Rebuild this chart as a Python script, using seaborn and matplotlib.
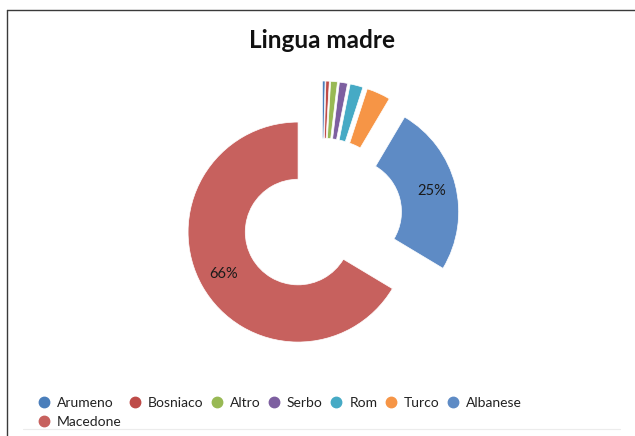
import matplotlib.pyplot as plt
import seaborn as sns
from matplotlib.lines import Line2D

# Lingua madre (quote percentuali)
lingue = ['Arumeno', 'Bosniaco', 'Altro', 'Serbo', 'Rom', 'Turco', 'Albanese', 'Macedone']
quote = [0.4, 0.5, 1.0, 1.2, 1.9, 3.5, 25.1, 66.4]
colori = ['#4A7EBB', '#BE4B48', '#98B954', '#7D5FA0', '#46AAC5', '#F69546',
          '#5E8BC5', '#C7615E']

sns.set_theme(style='white')
plt.rcParams['font.family'] = ['Lato', 'DejaVu Sans']

W, H = 635, 436
fig = plt.figure(figsize=(W / 100, H / 100), dpi=100)

# pie centre (322, 218.5) px, radius 110 px -> axes of 2.5 radii
cx, cy, r = 322, 218.5, 110
half = 1.25 * r
ax = fig.add_axes([(cx - half) / W, (H - cy - half) / H, 2 * half / W, 2 * half / H])

wedges, testi, pct = ax.pie(
    quote, colors=colori, startangle=90, counterclock=False,
    explode=[0.25] * len(quote), radius=1,
    wedgeprops=dict(width=0.52, edgecolor='white', linewidth=0.5),
    autopct=lambda p: f'{p:.0f}%' if p > 10 else '',
    pctdistance=0.78,
    textprops=dict(fontsize=10.5, color='#1a1a1a'))
ax.set_xlim(-1.25, 1.25)
ax.set_ylim(-1.25, 1.25)
ax.axis('off')

# title
fig.text(cx / W, 1 - 40 / H, 'Lingua madre', ha='center', va='center',
         fontsize=17.5, fontweight='bold', color='#111111')

# legend: Macedone wraps under Arumeno
ordine = [0, 7, 1, 2, 3, 4, 5, 6]
maniglie = [Line2D([], [], marker='o', linestyle='', markersize=7.5,
                   markerfacecolor=colori[i], markeredgecolor=colori[i])
            for i in ordine]
etichette = [lingue[i] for i in ordine]
fig.legend(maniglie, etichette, ncol=7, loc='upper left',
           bbox_to_anchor=(38 / W, 1 - 397 / H), frameon=False,
           fontsize=10, handlelength=0.8, handletextpad=0.55,
           columnspacing=0.55, labelspacing=0.5, borderpad=0,
           borderaxespad=0, labelcolor='#222222')

# chart border (top and left visible), faint bottom line
fig.add_artist(Line2D([7 / W, 1], [1 - 10 / H] * 2, transform=fig.transFigure,
                      color='#3a3a3a', lw=1))
fig.add_artist(Line2D([7 / W] * 2, [0, 1 - 10 / H], transform=fig.transFigure,
                      color='#3a3a3a', lw=1))
fig.add_artist(Line2D([23 / W, 620 / W], [1 - 429 / H] * 2,
                      transform=fig.transFigure, color='#ececec', lw=0.8))

fig.savefig('out.png', dpi=100)
